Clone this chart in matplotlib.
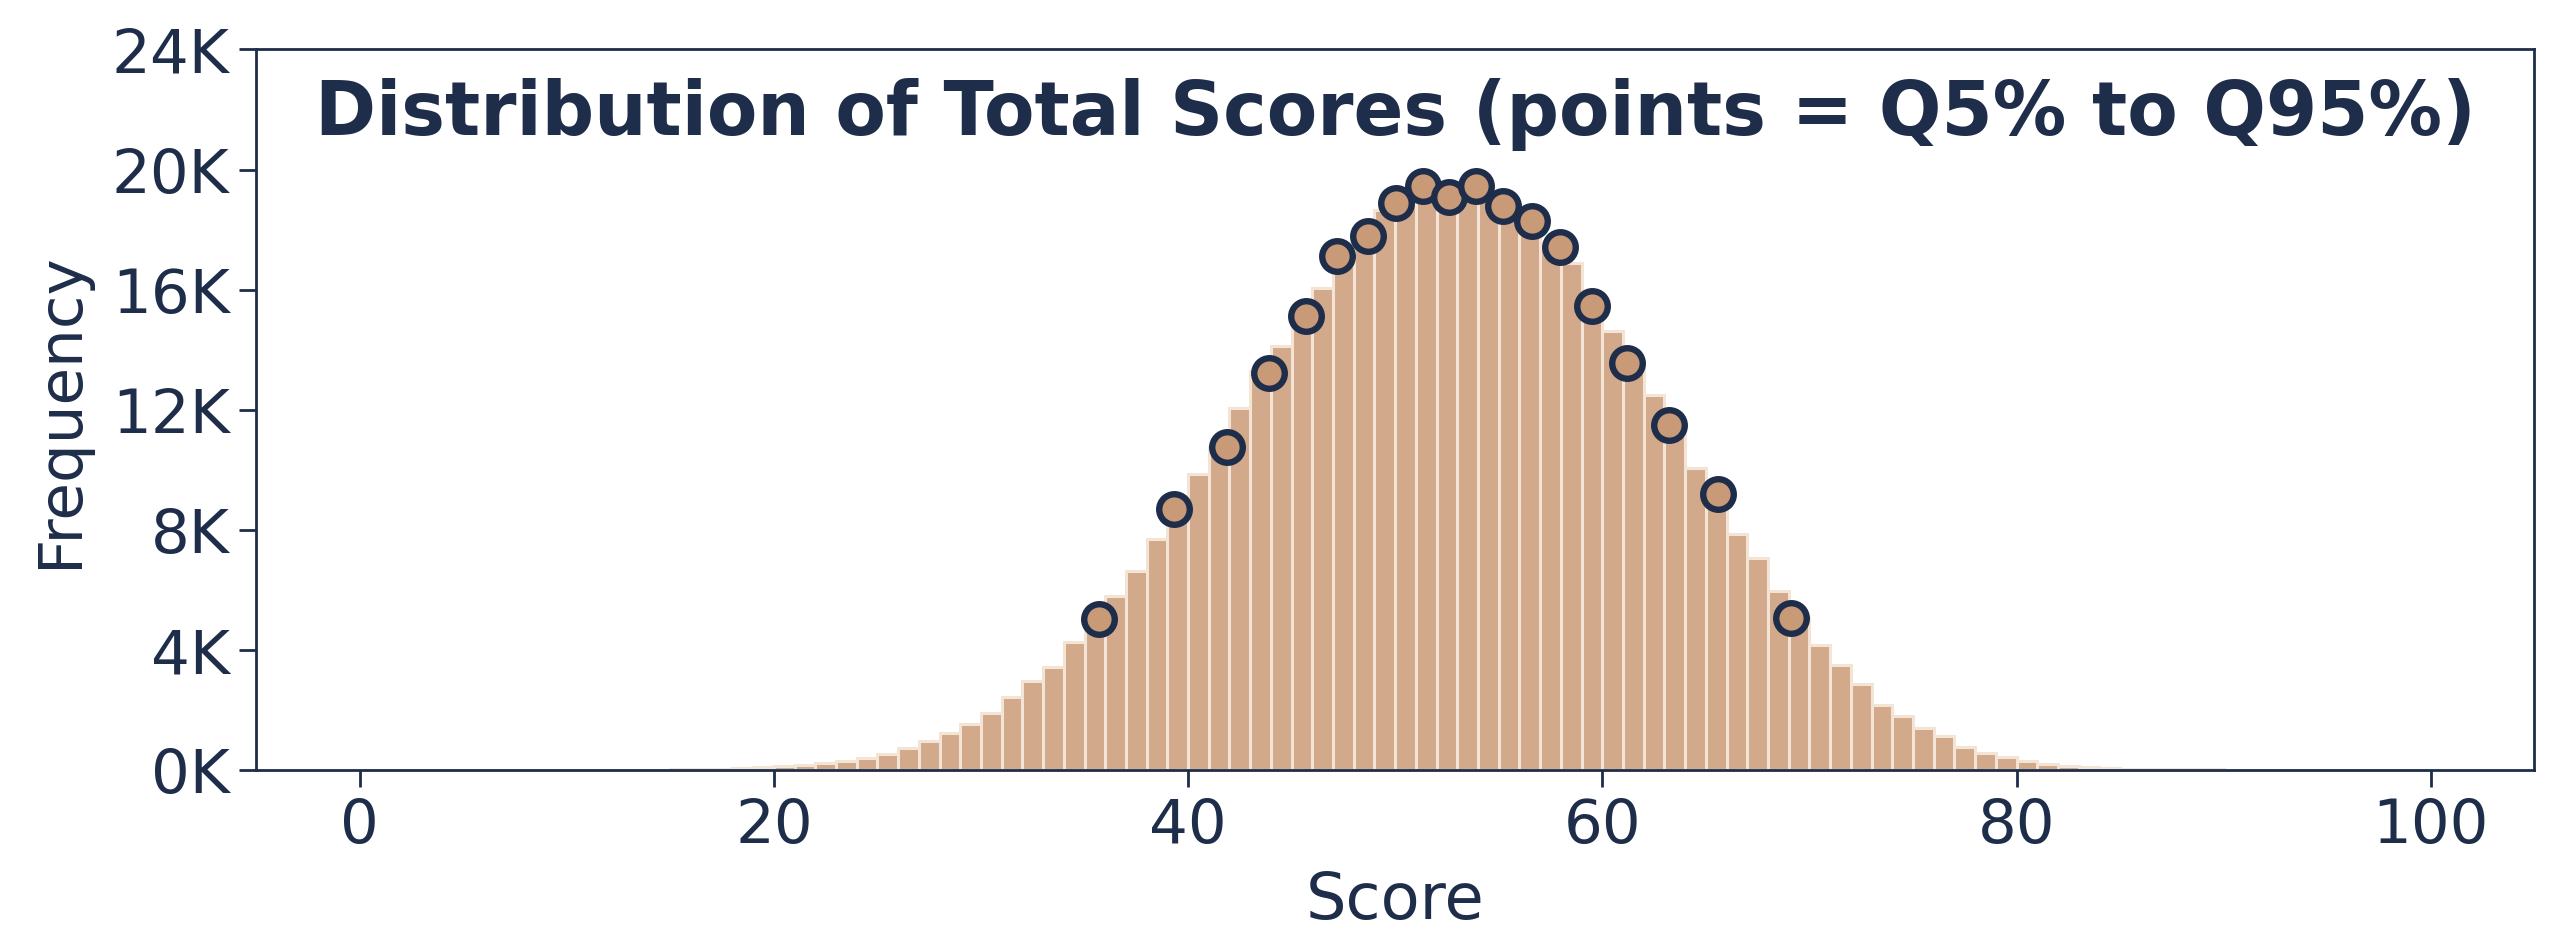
import numpy as np
import matplotlib
matplotlib.use("Agg")
import matplotlib.pyplot as plt
from matplotlib.ticker import FuncFormatter

# histogram counts per 1-point bin (0..99)
bin_edges = list(range(0, 101))
counts_k = [0] * 15 + [
    0.03, 0.04, 0.06, 0.08, 0.12, 0.14, 0.19, 0.26, 0.30, 0.40,   # 15-24
    0.55, 0.75, 0.98, 1.24, 1.55, 1.92, 2.43, 2.96, 3.43, 4.28,   # 25-34
    5.10, 5.80, 6.63, 7.71, 8.70, 9.85, 10.78, 12.05, 13.30, 14.13,  # 35-44
    15.10, 16.05, 16.90, 17.50, 18.67, 18.95, 19.20, 19.20, 19.25, 19.15,  # 45-54
    18.70, 18.10, 17.40, 16.90, 15.50, 14.63, 13.60, 12.50, 11.55, 10.08,  # 55-64
    9.17, 7.88, 7.06, 5.98, 5.08, 4.16, 3.50, 2.86, 2.19, 1.81,   # 65-74
    1.42, 1.13, 0.77, 0.58, 0.44, 0.31, 0.20, 0.14, 0.10, 0.08,   # 75-84
    0.06, 0.05, 0.04, 0.04, 0.03, 0.02, 0.01,                     # 85-91
] + [0] * 8
counts = [c * 1000 for c in counts_k]

# quantile points Q5 .. Q95
q_x = [35.7, 39.3, 41.9, 43.9, 45.7, 47.2, 48.7, 50.05, 51.35, 52.6,
       53.9, 55.2, 56.6, 57.97, 59.5, 61.2, 63.2, 65.6, 69.1]
q_y_k = [5.03, 8.69, 10.75, 13.22, 15.11, 17.13, 17.80, 18.90, 19.44, 19.10,
         19.46, 18.80, 18.30, 17.43, 15.47, 13.56, 11.51, 9.21, 5.07]
q_y = [v * 1000 for v in q_y_k]

navy = "#1e2d4a"
bar_col = "#d2a98a"
edge_col = "#f4e4d6"
pt_col = "#c99a78"

fig = plt.figure(figsize=(12.8, 4.755), dpi=200)
ax = fig.add_axes([0.1, 0.19, 0.89, 0.758])

ax.hist(bin_edges[:-1], bins=bin_edges, weights=counts,
        color=bar_col, edgecolor=edge_col, linewidth=1.1)
ax.plot(q_x, q_y, linestyle="none", marker="o", markersize=11,
        markerfacecolor=pt_col, markeredgecolor=navy, markeredgewidth=2.3,
        zorder=3)

ax.set_ylim(0, 24000)
ax.set_yticks(range(0, 24001, 4000))
ax.yaxis.set_major_formatter(FuncFormatter(lambda v, p: f"{int(v / 1000)}K"))
ax.set_xticks(range(0, 101, 20))

ax.set_xlabel("Score", fontsize=23, color=navy, labelpad=5)
ax.set_ylabel("Frequency", fontsize=22, color=navy, labelpad=8)
ax.text(0.5, 0.91, "Distribution of Total Scores (points = Q5% to Q95%)",
        transform=ax.transAxes, ha="center", va="center",
        fontsize=26.5, fontweight="bold", color=navy)

ax.tick_params(axis="both", labelsize=22, colors=navy, length=6, width=1.0)
for s in ax.spines.values():
    s.set_color(navy)
    s.set_linewidth(1.0)

fig.savefig("out.png", dpi=200)
